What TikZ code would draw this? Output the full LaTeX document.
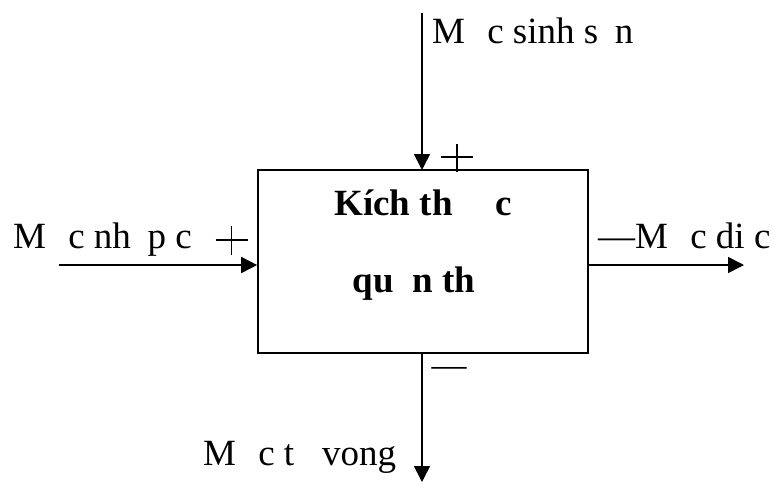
\documentclass[tikz,border=0pt]{standalone}
\usepackage{fontspec}
\setmainfont{Liberation Serif}
\usetikzlibrary{arrows.meta}
\tikzset{
  lbl/.style={inner sep=0pt, anchor=base west, font=\fontsize{37}{42}\selectfont},
  boxtxt/.style={inner sep=0pt, anchor=base, font=\fontsize{37}{42}\selectfont\bfseries},
  minussign/.style={inner sep=0pt, anchor=base, font=\fontsize{35}{40}\selectfont},
  signline/.style={line width=1.3pt},
  flow/.style={line width=1.6pt, -{Triangle[length=16pt,width=16pt]}},
  blk/.style={draw, line width=1.6pt, inner sep=0pt, minimum width=330pt, minimum height=183pt}
}
\begin{document}
\begin{tikzpicture}[x=1pt,y=-1pt]
\useasboundingbox (0,0) rectangle (774,483);
% main box
\node[blk] (box) at (423,261.5) {};
\node[boxtxt] (t1) at (423,215) {Kích th\hspace{1.15em}c};
\node[boxtxt] (t2) at (414,292) {qu\hspace{0.5em}n th};
% top input
\coordinate (topstart) at (422,13);
\coordinate (topend) at (422,170);
\draw[flow] (topstart) -- (topend);
\node[lbl] (ltop) at (432,43) {M\hspace{0.6em}c sinh s\hspace{0.45em}n};
\coordinate (ptop) at (457,157);
\draw[signline] ([xshift=-16pt]ptop) -- ([xshift=16pt]ptop)
                ([yshift=-15pt]ptop) -- ([yshift=13pt]ptop);
% left input
\coordinate (leftstart) at (59,265);
\coordinate (leftend) at (box.west |- leftstart);
\draw[flow] (leftstart) -- (leftend);
\node[lbl] (lleft) at (13,248) {M\hspace{0.6em}c nh\hspace{0.45em}p c};
\coordinate (pleft) at (231.5,240);
\draw[signline] ([xshift=-16pt]pleft) -- ([xshift=16pt]pleft)
                ([yshift=-15pt]pleft) -- ([yshift=14pt]pleft);
% right output
\coordinate (rightstart) at (box.east |- leftstart);
\coordinate (rightend) at (744,265);
\draw[flow] (rightstart) -- (rightend);
\node[lbl] (lright) at (598,248) {—M\hspace{0.6em}c di c};
% bottom output
\coordinate (botstart) at (box.south -| topstart);
\coordinate (botend) at (422,482);
\draw[flow] (botstart) -- (botend);
\node[lbl] (lbot) at (203,465) {M\hspace{0.6em}c t\hspace{0.75em}vong};
\node[minussign] (mbot) at (449,376) {—};
\end{tikzpicture}
\end{document}
